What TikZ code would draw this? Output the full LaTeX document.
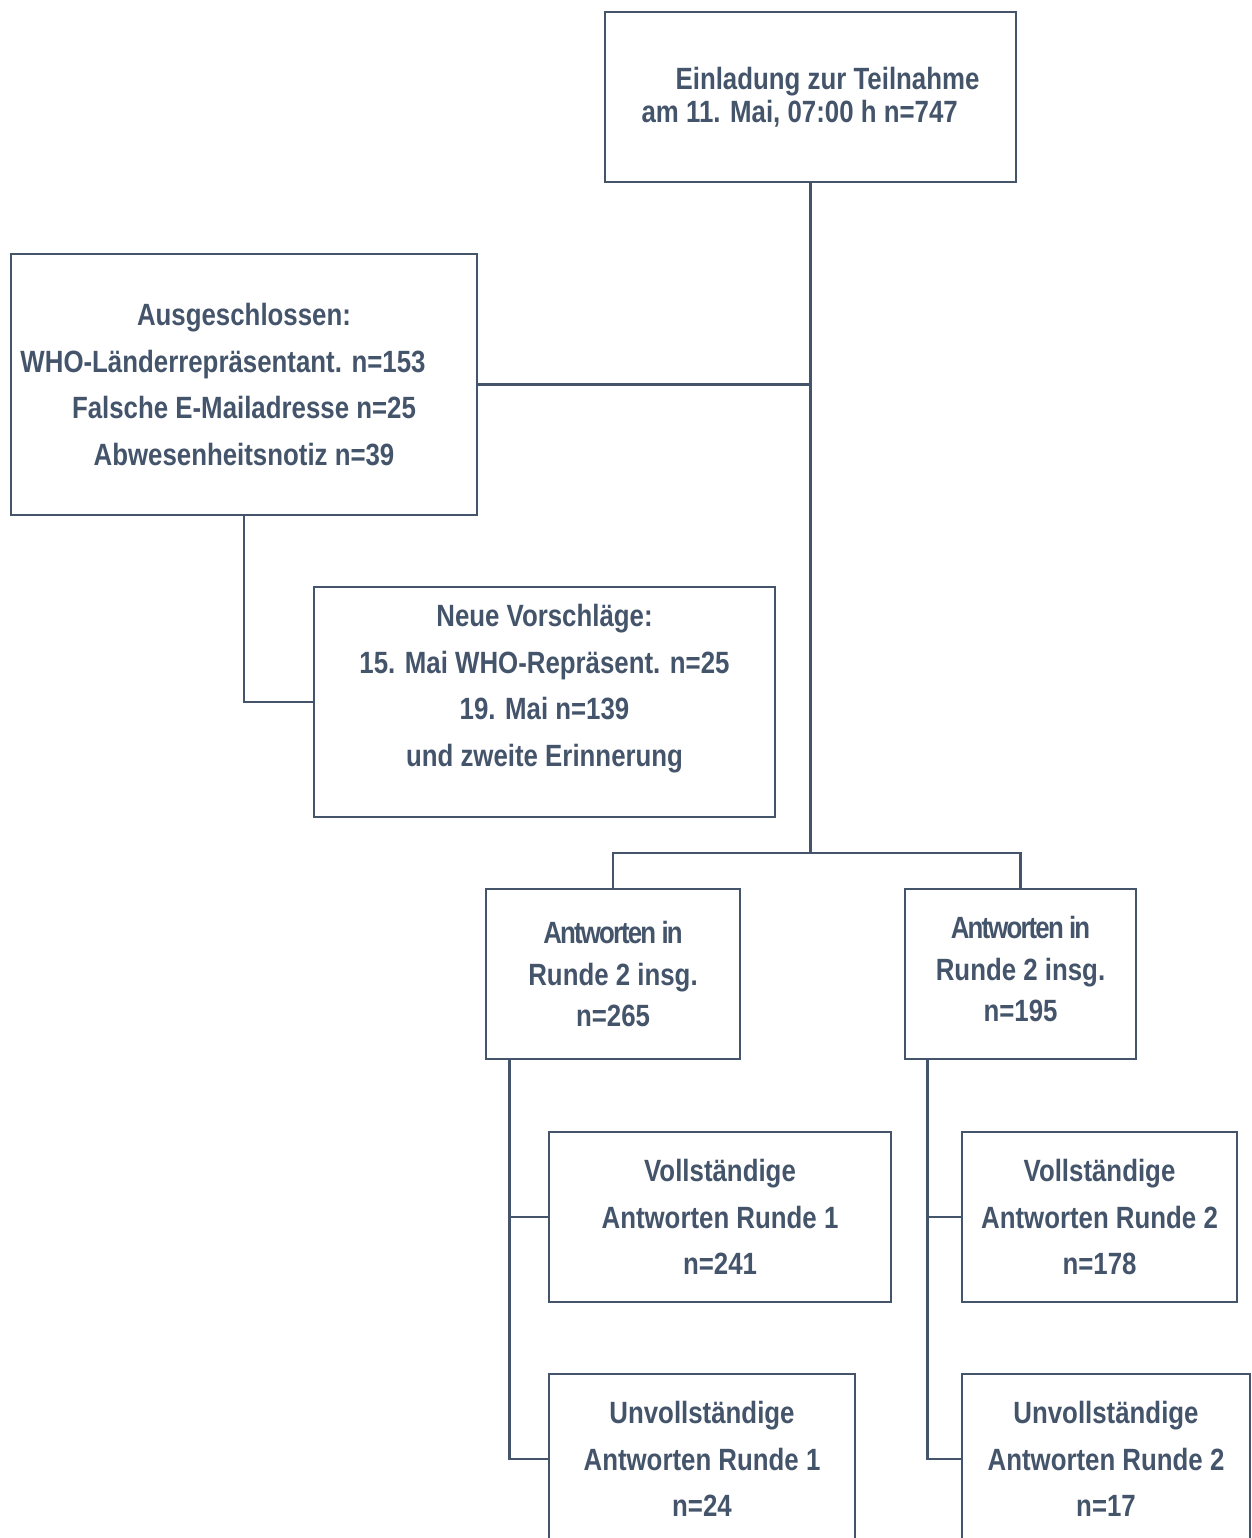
\documentclass[tikz,border=0pt]{standalone}
\usepackage{fontspec}
\setmainfont{Liberation Sans}[FakeStretch=0.84]
\usepackage{tikz}

\definecolor{slate}{HTML}{44546A}

\tikzset{
    box/.style={draw=slate, line width=0.55mm, text=slate, align=center, inner sep=0pt,
        font=\bfseries\fontsize{17.5}{26.5}\selectfont},
    link/.style={draw=slate, line width=0.55mm}
}

\begin{document}
\begin{tikzpicture}[x=0.2mm, y=-0.2mm]

    % Page frame
    \useasboundingbox (0, 0) rectangle (1251, 1538);
    \clip (0, 0) rectangle (1251, 1538);

    % Invitation
    \node[box, minimum width=82.2mm, minimum height=34mm, align=left,
          font=\bfseries\fontsize{17.5}{18.8}\selectfont] (invite) at (810.5, 97)
        {\hspace*{6.8mm}Einladung zur Teilnahme\\am 11. Mai, 07:00 h n=747};

    % Excluded
    \node[box, minimum width=93.2mm, minimum height=52.2mm] (excluded) at (244, 384.5)
        {Ausgeschlossen:\\WHO-Länderrepräsentant. n=153\rule{8.4mm}{0pt}\\Falsche E-Mailadresse n=25\\Abwesenheitsnotiz n=39};

    % New proposals
    \node[box, minimum width=92.2mm, minimum height=46mm] (proposals) at (544.5, 702)
        {Neue Vorschläge:\\15. Mai WHO-Repräsent. n=25\\19. Mai n=139\\und zweite Erinnerung\\[-2.6mm]};

    % Responses round 2
    \node[box, minimum width=50.8mm, minimum height=34mm,
          font=\bfseries\fontsize{17.5}{23.8}\selectfont] (resp1) at (613, 974)
        {{\addfontfeature{LetterSpace=-6}Antworten in}\\Runde 2 insg.\\n=265};
    \node[box, minimum width=46.2mm, minimum height=34mm,
          font=\bfseries\fontsize{17.5}{23.8}\selectfont] (resp2) at (1020.5, 974)
        {{\addfontfeature{LetterSpace=-6}Antworten in}\\Runde 2 insg.\\n=195\\[-18pt]};

    % Complete answers
    \node[box, minimum width=68.4mm, minimum height=34mm] (full1) at (720, 1217)
        {Vollständige\\Antworten Runde 1\\n=241};
    \node[box, minimum width=55mm, minimum height=34mm] (full2) at (1099.5, 1217)
        {Vollständige\\Antworten Runde 2\\n=178};

    % Incomplete answers
    \node[box, minimum width=61.2mm, minimum height=34mm] (part1) at (702, 1459)
        {Unvollständige\\Antworten Runde 1\\n=24};
    \node[box, minimum width=57.6mm, minimum height=34mm] (part2) at (1106, 1459)
        {Unvollständige\\Antworten Runde 2\\n=17};

    % Main trunk
    \coordinate (split) at (810.5, 853);
    \draw[link] (invite.south) -- (split);
    \draw[link] (excluded.east) -- (excluded.east -| invite.south);
    \draw[link] (excluded.south) |- (proposals.west);
    \draw[link] (resp1.north) |- (split) -| (resp2.north);

    % Branches below the responses
    \coordinate (stem1) at ([xshift=5mm]resp1.south west);
    \coordinate (stem2) at ([xshift=4.8mm]resp2.south west);
    \draw[link] (stem1) |- (full1.west);
    \draw[link] (stem1) |- (part1.west);
    \draw[link] (stem2) |- (full2.west);
    \draw[link] (stem2) |- (part2.west);

\end{tikzpicture}
\end{document}
